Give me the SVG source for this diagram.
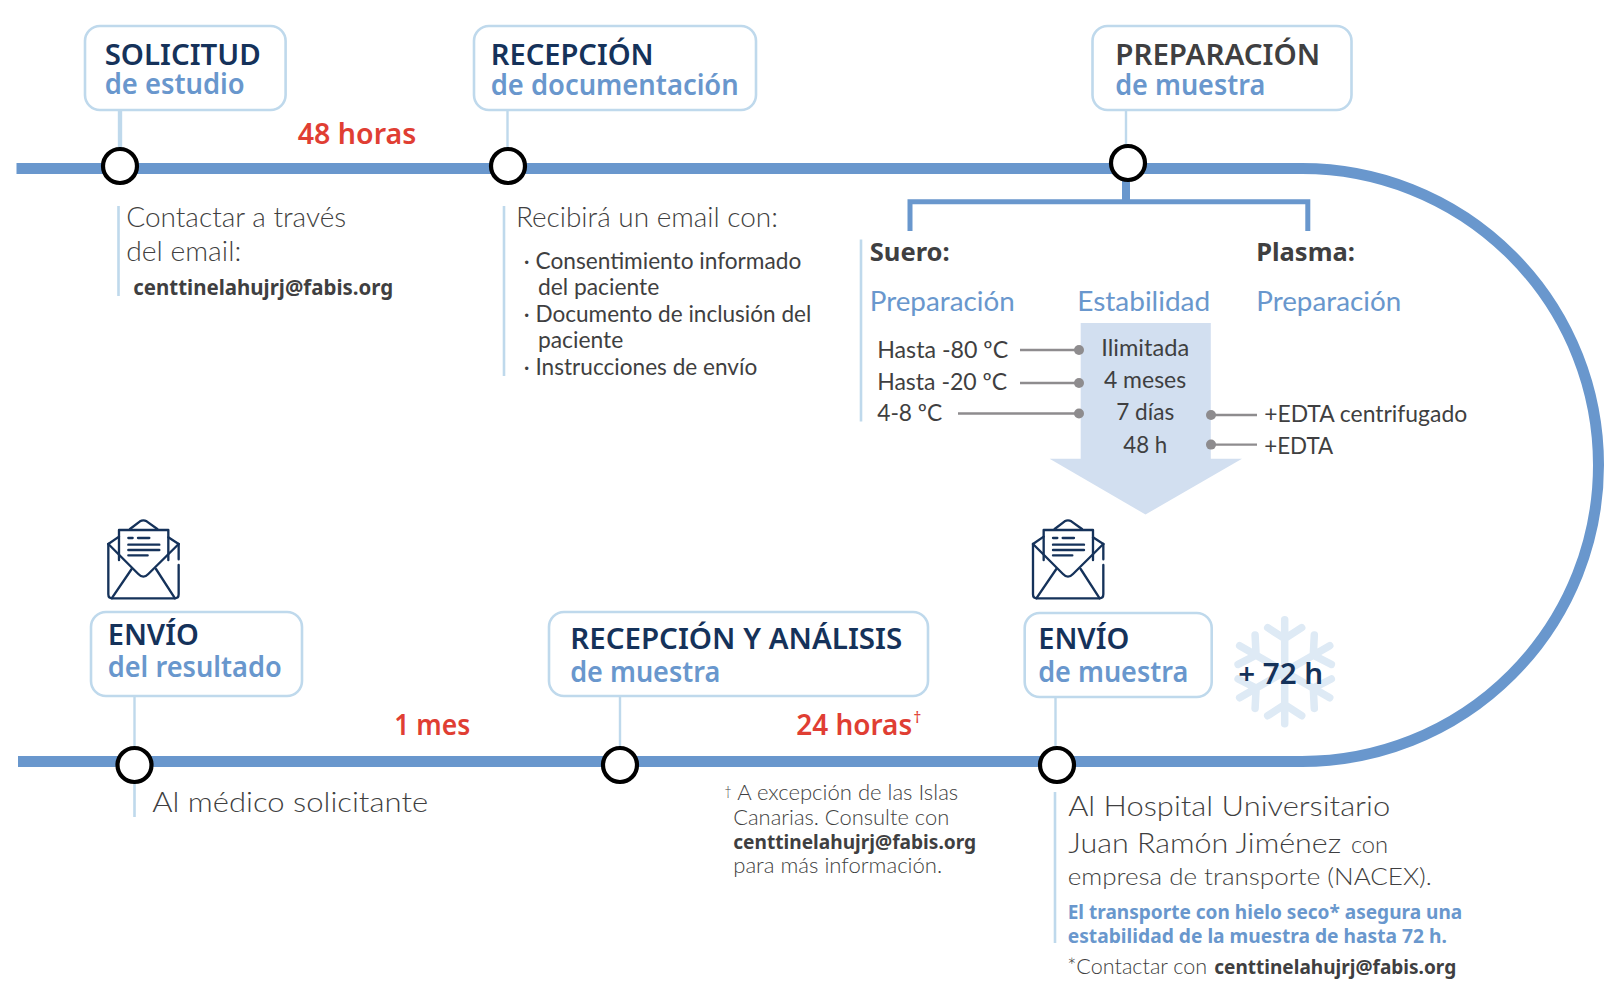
<svg xmlns="http://www.w3.org/2000/svg" width="1620" height="1000" viewBox="0 0 1620 1000">
<style>
text{font-family:"Noto Sans","Liberation Sans",sans-serif;transform:translateX(-.8px)}
.box{fill:#fff;stroke:#bfd9ec;stroke-width:2.6}
.h{font-size:29px;font-weight:600;fill:#15325a}
.hg{font-size:29px;font-weight:600;fill:#3f3f41}
.s{font-size:29px;font-weight:600;fill:#6997cd}
.red{font-size:29px;font-weight:600;fill:#e03e33}
.l{font-family:Lato,"Noto Sans",sans-serif;font-weight:300;fill:#3f3f41}
.f28{font-size:28px}.f23{font-size:23px}.f21{font-size:21px}
.m{font-family:Lato,"Noto Sans",sans-serif;font-weight:400;font-size:23px;fill:#3f3f41}
.p{font-family:Lato,"Noto Sans",sans-serif;font-weight:400;font-size:27px;fill:#6997cd}
.b{font-weight:700;fill:#3f3f41}
.bl{font-weight:700;font-size:20px;fill:#6997cd}
.track{fill:none;stroke:#6997cd;stroke-width:11}
.stem{stroke:#bfd9ec;stroke-width:2.4;fill:none}
.note{stroke:#bfd9ec;stroke-width:2.6;fill:none}
.dot{fill:#fff;stroke:#000;stroke-width:4.2}
.g{stroke:#8e8c8e;stroke-width:2.4;fill:none}
.gd{fill:#8e8c8e}
.br{stroke:#6997cd;stroke-width:5;fill:none}
.ic{fill:none;stroke:#15325a;stroke-width:7;stroke-linecap:round;stroke-linejoin:round}
.sn{fill:none;stroke:#deeaf5;stroke-width:7.5;stroke-linecap:round}
</style>
<defs>
<g id="envelope">
<path class="ic" d="M85 132V283Q85 295 97 295H284Q296 295 296 283V195M296 178V132"/>
<path class="ic" d="M85 132L175 222Q190 238 205 222L296 132"/>
<path class="ic" d="M85 132L117 110M296 132L265 112M150 87L180 64Q190 58 200 64L232 87"/>
<path class="ic" d="M117 180V90H265V180"/>
<path class="ic" d="M145 114H158M174 114H208M145 134H238M145 150H238M145 166H203"/>
<path class="ic" d="M95 295L155 207M285 295L228 207"/>
</g>
<g id="arm"><path class="sn" d="M0 0V-52M0 -33L-17 -44M0 -33L17 -44"/></g>
</defs>

<g id="connectors">
<path class="track" d="M16.5 168.5H1302A296.5 296.5 0 0 1 1302 761.5H18"/>
<path class="stem" style="stroke-width:4.4" d="M120 110V148"/>
<path class="stem" d="M507.5 110V148M1126 110V146M134.5 696V746M620 696V746M1055.5 697V746"/>
<path class="note" d="M118.5 206V296M504 206V376M861 239.5V421.6M134.5 765V817M1055 792V943"/>
<path class="br" style="stroke-width:8" d="M1126 180V201"/>
<path class="br" d="M910 231V201.8H1307.8V231"/>
</g>

<g id="stability-arrow"><path fill="#d2dff0" d="M1080.7 323H1210.8V458.8H1242L1145.5 514.5L1049.6 458.8H1080.7Z"/></g>

<g id="snowflake" transform="translate(1284.7 671.7)">
<use href="#arm"/><use href="#arm" transform="rotate(60)"/><use href="#arm" transform="rotate(120)"/><use href="#arm" transform="rotate(180)"/><use href="#arm" transform="rotate(240)"/><use href="#arm" transform="rotate(300)"/>
</g>

<g id="n-solicitud">
<rect class="box" x="85" y="26" width="200.600" height="84" rx="15"/>
<text class="h" x="105.500" y="65" textLength="156" lengthAdjust="spacingAndGlyphs">SOLICITUD</text>
<text class="s" x="105.500" y="94" textLength="140" lengthAdjust="spacingAndGlyphs">de estudio</text>
</g>
<g id="n-recepcion">
<rect class="box" x="474" y="26" width="282" height="84" rx="15"/>
<text class="h" x="491.500" y="65" textLength="163" lengthAdjust="spacingAndGlyphs">RECEPCIÓN</text>
<text class="s" x="491.500" y="94.500" textLength="248" lengthAdjust="spacingAndGlyphs">de documentación</text>
</g>
<g id="n-preparacion">
<rect class="box" x="1092.500" y="26" width="259" height="84" rx="15"/>
<text class="hg" x="1116" y="64.500" textLength="205" lengthAdjust="spacingAndGlyphs">PREPARACIÓN</text>
<text class="s" x="1116" y="94.500" textLength="150" lengthAdjust="spacingAndGlyphs">de muestra</text>
</g>
<g id="n-envio-resultado">
<use href="#envelope" transform="translate(80 500) scale(.3333)"/>
<rect class="box" x="91" y="612" width="211" height="84" rx="15"/>
<text class="h" x="108.500" y="645" textLength="91" lengthAdjust="spacingAndGlyphs">ENVÍO</text>
<text class="s" x="108.500" y="677" textLength="174" lengthAdjust="spacingAndGlyphs">del resultado</text>
</g>
<g id="n-recepcion-analisis">
<rect class="box" x="549" y="612" width="379" height="84" rx="15"/>
<text class="h" x="571" y="649" textLength="332" lengthAdjust="spacingAndGlyphs">RECEPCIÓN Y ANÁLISIS</text>
<text class="s" x="571" y="681.500" textLength="150" lengthAdjust="spacingAndGlyphs">de muestra</text>
</g>
<g id="n-envio-muestra">
<use href="#envelope" transform="translate(1004.670 500) scale(.3333)"/>
<rect class="box" x="1024.700" y="613" width="187" height="84" rx="15"/>
<text class="h" x="1039" y="649" textLength="91" lengthAdjust="spacingAndGlyphs">ENVÍO</text>
<text class="s" x="1039" y="681.500" textLength="150" lengthAdjust="spacingAndGlyphs">de muestra</text>
<text class="h" x="1239" y="684" textLength="85" lengthAdjust="spacingAndGlyphs">+ 72 h</text>
</g>

<g id="timeline-dots">
<circle class="dot" cx="120" cy="166" r="17"/>
<circle class="dot" cx="508" cy="166" r="17"/>
<circle class="dot" cx="1128" cy="163" r="17"/>
<circle class="dot" cx="134.500" cy="765" r="17"/>
<circle class="dot" cx="620" cy="765" r="17"/>
<circle class="dot" cx="1057" cy="765" r="17"/>
</g>

<g id="durations">
<text class="red" x="298.600" y="143.500" textLength="118.500" lengthAdjust="spacingAndGlyphs">48 horas</text>
<text class="red" x="395" y="734.500" textLength="76" lengthAdjust="spacingAndGlyphs">1 mes</text>
<text class="red" x="797" y="734.500" textLength="116" lengthAdjust="spacingAndGlyphs">24 horas</text>
<text class="red" style="font-size:16px;font-weight:400" x="914" y="723">†</text>
</g>

<g id="t-solicitud">
<text class="l f28" x="127" y="227" textLength="220" lengthAdjust="spacingAndGlyphs">Contactar a través</text>
<text class="l f28" x="127" y="261" textLength="115" lengthAdjust="spacingAndGlyphs">del email:</text>
<text class="b" style="font-size:21px" x="134" y="295" textLength="260" lengthAdjust="spacingAndGlyphs">centtinelahujrj@fabis.org</text>
</g>
<g id="t-recepcion">
<text class="l f28" x="516.700" y="227" textLength="262" lengthAdjust="spacingAndGlyphs">Recibirá un email con:</text>
<text class="m" x="524.600" y="269" textLength="277.500" lengthAdjust="spacingAndGlyphs">· Consentimiento informado</text>
<text class="m" x="538.700" y="295" textLength="121.300" lengthAdjust="spacingAndGlyphs">del paciente</text>
<text class="m" x="524.600" y="322" textLength="287.500" lengthAdjust="spacingAndGlyphs">· Documento de inclusión del</text>
<text class="m" x="538.700" y="348" textLength="85.300" lengthAdjust="spacingAndGlyphs">paciente</text>
<text class="m" x="524.600" y="375" textLength="233.400" lengthAdjust="spacingAndGlyphs">· Instrucciones de envío</text>
</g>
<g id="t-preparacion">
<text class="b" style="font-size:25px" x="870.500" y="261" textLength="80" lengthAdjust="spacingAndGlyphs">Suero:</text>
<text class="b" style="font-size:25px" x="1257" y="261" textLength="98.700" lengthAdjust="spacingAndGlyphs">Plasma:</text>
<text class="p" x="870.500" y="311" textLength="145" lengthAdjust="spacingAndGlyphs">Preparación</text>
<text class="p" x="1078" y="311" textLength="133" lengthAdjust="spacingAndGlyphs">Estabilidad</text>
<text class="p" x="1257" y="311" textLength="145" lengthAdjust="spacingAndGlyphs">Preparación</text>
<text class="m" x="878" y="358" textLength="131" lengthAdjust="spacingAndGlyphs">Hasta -80 ºC</text>
<text class="m" x="878" y="390" textLength="130" lengthAdjust="spacingAndGlyphs">Hasta -20 ºC</text>
<text class="m" x="878" y="421" textLength="65" lengthAdjust="spacingAndGlyphs">4-8 ºC</text>
<text class="m" x="1102" y="356" textLength="88" lengthAdjust="spacingAndGlyphs">Ilimitada</text>
<text class="m" x="1104.700" y="388" textLength="82.300" lengthAdjust="spacingAndGlyphs">4 meses</text>
<text class="m" x="1117" y="420" textLength="58" lengthAdjust="spacingAndGlyphs">7 días</text>
<text class="m" x="1124" y="452.500" textLength="44" lengthAdjust="spacingAndGlyphs">48 h</text>
<text class="m" x="1265" y="422" textLength="203" lengthAdjust="spacingAndGlyphs">+EDTA centrifugado</text>
<text class="m" x="1265" y="453.500" textLength="69" lengthAdjust="spacingAndGlyphs">+EDTA</text>
<path class="g" d="M1020 350H1079M1020 383H1079M958 413.500H1079M1211 415H1257M1211 444.600H1257"/>
<circle class="gd" cx="1079" cy="350" r="5"/><circle class="gd" cx="1079" cy="383" r="5"/><circle class="gd" cx="1079" cy="413.500" r="5"/>
<circle class="gd" cx="1211" cy="415" r="5"/><circle class="gd" cx="1211" cy="444.600" r="5"/>
</g>
<g id="t-resultado">
<text class="l f28" x="153" y="812" textLength="276" lengthAdjust="spacingAndGlyphs">Al médico solicitante</text>
</g>
<g id="t-analisis">
<text class="l" style="font-size:13px" x="725" y="796">†</text>
<text class="l f21" x="738" y="800" textLength="221" lengthAdjust="spacingAndGlyphs">A excepción de las Islas</text>
<text class="l f21" x="734" y="824.500" textLength="216" lengthAdjust="spacingAndGlyphs">Canarias. Consulte con</text>
<text class="b" style="font-size:20px" x="734" y="849" textLength="243" lengthAdjust="spacingAndGlyphs">centtinelahujrj@fabis.org</text>
<text class="l f21" x="734" y="873" textLength="209" lengthAdjust="spacingAndGlyphs">para más información.</text>
</g>
<g id="t-envio">
<text class="l f28" x="1069" y="816" textLength="322" lengthAdjust="spacingAndGlyphs">Al Hospital Universitario</text>
<text class="l f28" x="1069" y="853" textLength="273" lengthAdjust="spacingAndGlyphs">Juan Ramón Jiménez</text>
<text class="l f23" x="1351.700" y="853" textLength="37.300" lengthAdjust="spacingAndGlyphs">con</text>
<text class="l f23" x="1068.500" y="884.500" textLength="364.200" lengthAdjust="spacingAndGlyphs">empresa de transporte (NACEX).</text>
<text class="bl" x="1068.500" y="919" textLength="394.500" lengthAdjust="spacingAndGlyphs">El transporte con hielo seco* asegura una</text>
<text class="bl" x="1068.500" y="943" textLength="379.200" lengthAdjust="spacingAndGlyphs">estabilidad de la muestra de hasta 72 h.</text>
<text class="l f21" x="1068" y="974" textLength="140" lengthAdjust="spacingAndGlyphs">*Contactar con</text>
<text class="b" style="font-size:20px" x="1215" y="974" textLength="242" lengthAdjust="spacingAndGlyphs">centtinelahujrj@fabis.org</text>
</g>
</svg>
